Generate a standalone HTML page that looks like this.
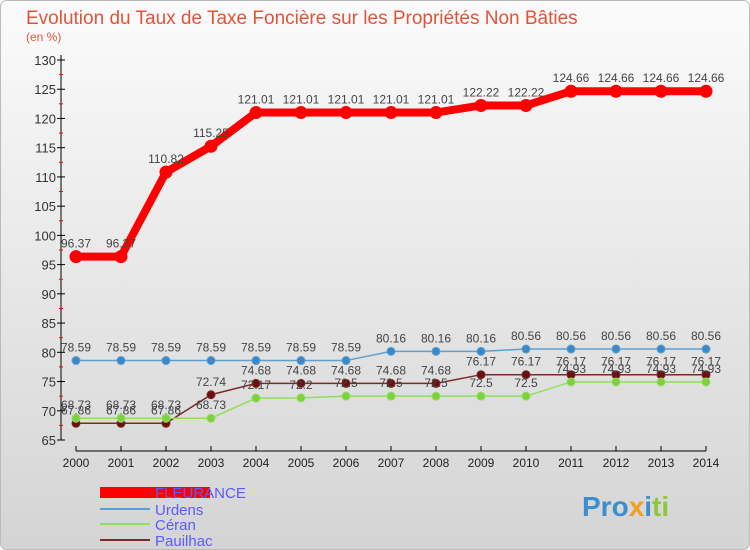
<!DOCTYPE html>
<html><head><meta charset="utf-8"><style>
body{margin:0}
svg{display:block;font-family:"Liberation Sans",sans-serif}
</style></head><body>
<svg id="c" width="750" height="550" xmlns="http://www.w3.org/2000/svg">
<defs><linearGradient id="bg" x1="0" y1="0" x2="0" y2="1"><stop offset="0" stop-color="#fbfbfb"/><stop offset="1" stop-color="#d4d4d4"/></linearGradient></defs>
<rect x="0.5" y="0.5" width="749" height="549" rx="6" fill="url(#bg)" stroke="#bbb"/>
<text x="26" y="24" font-size="19" fill="#e0553a">Evolution du Taux de Taxe Foncière sur les Propriétés Non Bâties</text>
<text x="26" y="41" font-size="12" fill="#e0553a">(en %)</text>
<g id="axes"></g><g id="series"></g>
<g>
<rect x="100" y="487" width="110" height="11" fill="#f00"/>
<text x="155" y="498" font-size="15" fill="#5a5aff">FLEURANCE</text>
<rect x="100" y="508" width="50" height="2" fill="#5aa0d0"/>
<text x="155" y="515" font-size="15" fill="#5a5aff">Urdens</text>
<rect x="100" y="523" width="50" height="2" fill="#8ee05a"/>
<text x="155" y="530" font-size="15" fill="#5a5aff">Céran</text>
<rect x="100" y="539" width="50" height="2" fill="#7a2a2a"/>
<text x="155" y="546" font-size="15" fill="#5a5aff">Pauilhac</text>
</g>
<text x="582" y="516" font-size="28" font-weight="bold" fill="#3a8fd0">Pro<tspan fill="#f0a020">x</tspan><tspan fill="#3a8fd0">i</tspan><tspan fill="#8ec83a">ti</tspan></text>
</svg>
<script>
const years=[2000,2001,2002,2003,2004,2005,2006,2007,2008,2009,2010,2011,2012,2013,2014];
const fleurance=[96.37,96.37,110.82,115.25,121.01,121.01,121.01,121.01,121.01,122.22,122.22,124.66,124.66,124.66,124.66];
const urdens=[78.59,78.59,78.59,78.59,78.59,78.59,78.59,80.16,80.16,80.16,80.56,80.56,80.56,80.56,80.56];
const ceran=[68.73,68.73,68.73,68.73,72.17,72.2,72.5,72.5,72.5,72.5,72.5,74.93,74.93,74.93,74.93];
const pauilhac=[67.86,67.86,67.86,72.74,74.68,74.68,74.68,74.68,74.68,76.17,76.17,76.17,76.17,76.17,76.17];
const yTicks=[65,70,75,80,85,90,95,100,105,110,115,120,125,130];
const NS="http://www.w3.org/2000/svg";
const xs=i=>76+i*45, ys=v=>440-(v-65)*380/65;
function mk(t,a,p){const e=document.createElementNS(NS,t);for(const k in a)e.setAttribute(k,a[k]);p.appendChild(e);return e;}
const ax=document.getElementById('axes'), sg=document.getElementById('series');
const yl=mk('line',{x1:61,y1:55,x2:61,y2:440,stroke:'#000'},ax);


const xl=mk('line',{x1:76,y1:451,x2:706,y2:451,stroke:'#000'},ax);


yTicks.forEach(v=>{
  mk('line',{x1:57,y1:ys(v),x2:65,y2:ys(v),stroke:'#000'},ax);
  if(v<130) mk('line',{x1:59,y1:ys(v+2.5),x2:63,y2:ys(v+2.5),stroke:'#f00'},ax);
  const t=mk('text',{x:56,y:ys(v)+5,'font-size':13,'text-anchor':'end',fill:'#333'},ax);t.textContent=v;
  
  
});
years.forEach((y,i)=>{
  mk('line',{x1:xs(i),y1:446,x2:xs(i),y2:451,stroke:'#000'},ax);
  const t=mk('text',{x:xs(i),y:467,'font-size':12,'text-anchor':'middle',fill:'#222'},ax);t.textContent=y;
  
  
});
function draw(vals,col,w,r,name,fill){
  const g=mk('g',{},sg);
  
  
  mk('polyline',{points:vals.map((v,i)=>xs(i)+','+ys(v)).join(' '),fill:'none',stroke:col,'stroke-width':w},g);
  vals.forEach((v,i)=>{
    const c=mk('circle',{cx:xs(i),cy:ys(v),r:r,fill:fill,stroke:col,'stroke-width':1},g);
    
    
    const t=mk('text',{x:xs(i),y:ys(v)-9,'font-size':12,'text-anchor':'middle',fill:'#444'},g);t.textContent=v;
    
    
  });
}
draw(pauilhac,'#7a2a2a',1.5,4,'pauilhac','#6a1010');
draw(ceran,'#8ee05a',1.5,4,'ceran','#7ed040');
draw(urdens,'#5aa0d0',1.5,4,'urdens','#3a88c8');
draw(fleurance,'#f00',8,6,'fleurance','#f00');
</script>
</body></html>
